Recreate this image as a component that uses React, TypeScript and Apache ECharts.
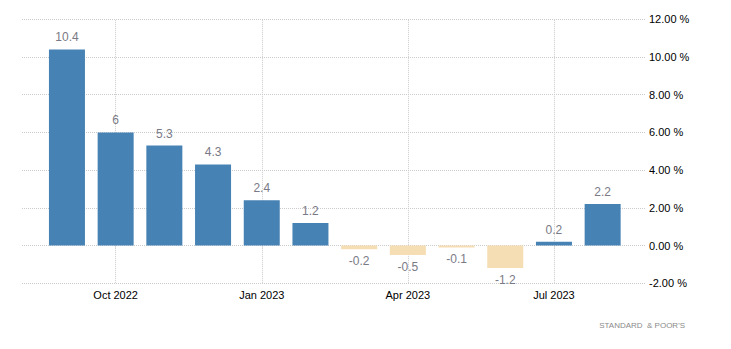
import React, { useEffect, useRef } from "react";
import * as echarts from "echarts";

const categories = [
  "Sep 2022", "Oct 2022", "Nov 2022", "Dec 2022", "Jan 2023", "Feb 2023",
  "Mar 2023", "Apr 2023", "May 2023", "Jun 2023", "Jul 2023", "Aug 2023",
];
const values = [10.4, 6, 5.3, 4.3, 2.4, 1.2, -0.2, -0.5, -0.1, -1.2, 0.2, 2.2];
const markedMonths = ["Oct 2022", "Jan 2023", "Apr 2023", "Jul 2023"];
const sourceText = "STANDARD  & POOR'S";

const POS = "#4682b4";
const NEG = "#f5deb3";
const FONT = "Liberation Sans";

export default function App() {
  const ref = useRef<HTMLDivElement>(null);
  useEffect(() => {
    if (!ref.current) return;
    const chart = echarts.init(ref.current, undefined, { renderer: "svg" });
    const top = 19.3;
    const bottom = 349 - 283.2;
    chart.setOption({
      animation: false,
      grid: [
        { left: 22, right: 731 - 645, top, bottom },
        { left: 42.6, right: 731 - 627, top, bottom },
      ],
      xAxis: [
        {
          gridIndex: 0, type: "category", data: categories, show: false,
        },
        {
          gridIndex: 1,
          type: "category",
          data: categories,
          axisLine: { show: false },
          axisTick: {
            show: true,
            alignWithLabel: true,
            interval: (i: number) => i % 3 === 1,
            length: 4,
            lineStyle: { color: "#cccccc", type: "dotted" },
          },
          axisLabel: {
            interval: (i: number) => i % 3 === 1,
            color: "#000",
            fontFamily: FONT,
            fontSize: 11,
            margin: 6,
          },
          splitLine: { show: false },
        },
      ],
      yAxis: [
        {
          gridIndex: 0,
          type: "value",
          position: "right",
          min: -2,
          max: 12,
          interval: 2,
          axisLine: { show: false },
          axisTick: { show: false },
          axisLabel: {
            formatter: (v: number) => v.toFixed(2) + " %",
            color: "#000",
            fontFamily: FONT,
            fontSize: 11,
            margin: 4,
          },
          splitLine: { show: true, lineStyle: { color: "#cccccc", type: "dotted" } },
        },
        {
          gridIndex: 1,
          type: "value",
          min: -2,
          max: 12,
          interval: 2,
          show: false,
          splitLine: { show: false },
        },
      ],
      series: [
        {
          type: "bar",
          xAxisIndex: 1,
          yAxisIndex: 1,
          barWidth: 36,
          data: values.map((v) => ({
            value: v,
            itemStyle: { color: v >= 0 ? POS : NEG },
            label: {
              show: true,
              position: v >= 0 ? "top" : "bottom",
              distance: v >= 0 ? 6 : 6,
              color: "#7a7a86",
              fontFamily: FONT,
              fontSize: 12,
              formatter: String(v),
            },
          })),
          markLine: {
            silent: true,
            symbol: "none",
            label: { show: false },
            lineStyle: { color: "#cccccc", type: "dotted", width: 1 },
            data: markedMonths.map((m) => ({ xAxis: m })),
            z: 0,
          },
          z: 2,
        },
      ],
      graphic: [
        {
          type: "text",
          right: 731 - 685,
          top: 321,
          style: {
            text: sourceText,
            fill: "#8a8a8a",
            font: `8px ${FONT}`,
          },
        },
      ],
    });
    return () => chart.dispose();
  }, []);
  return (
    <div
      ref={ref}
      style={{ position: "fixed", left: 0, top: 0, width: 731, height: 349, background: "#fff" }}
    />
  );
}
